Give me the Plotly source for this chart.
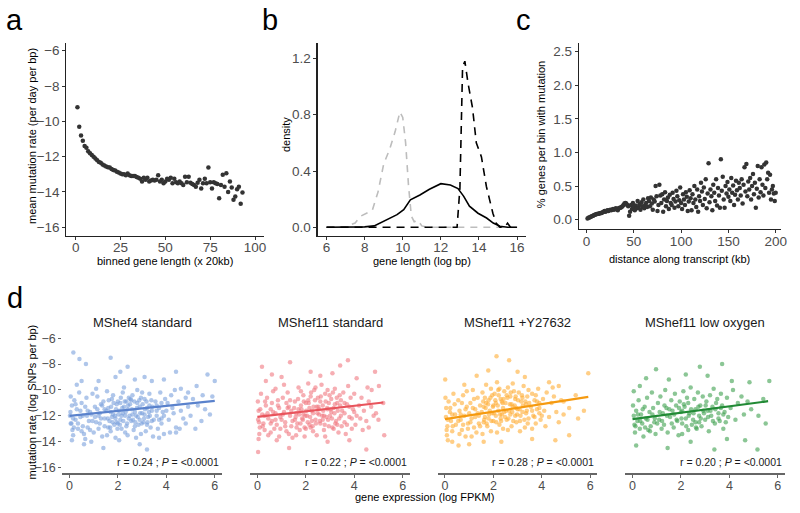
import plotly.graph_objects as go

# ---------------- data ----------------
# panel a: mean mutation rate per binned gene length
a_x = list(range(1, 94))
a_y = [-9.2, -10.3, -10.8, -11.1, -11.4, -11.5, -11.7, -11.8, -11.9, -12.0,
       -12.1, -12.2, -12.3, -12.35, -12.45, -12.5, -12.55, -12.6, -12.62, -12.7,
       -12.75, -12.78, -12.85, -12.9, -12.95, -13.0, -13.0, -13.05, -12.95, -13.05,
       -13.1, -13.1, -13.1, -13.15, -13.2, -13.25, -13.4, -13.2, -13.3, -13.2,
       -13.4, -13.35, -13.3, -13.35, -13.3, -13.05, -13.4, -13.3, -13.5, -13.4,
       -13.25, -13.3, -13.2, -13.5, -13.25, -13.45, -13.5, -13.4, -13.5, -13.6,
       -13.13, -13.45, -13.13, -13.47, -13.55, -13.6, -13.7, -13.47, -13.3, -13.8,
       -13.5, -13.25, -13.5, -12.62, -13.45, -13.8, -13.45, -13.5, -13.55, -14.35,
       -13.6, -13.03, -13.7, -12.94, -14.0, -13.4, -13.75, -14.44, -14.25, -13.84,
       -13.7, -14.67, -14.03]

# panel b: density curves of gene length (log bp)
b_grey_x = [6, 7.0, 7.3, 7.5, 7.8, 8.1, 8.4, 8.7, 9.0, 9.3, 9.6, 9.85, 10.0, 10.15, 10.3, 10.45, 10.6, 10.8, 11.0, 11.3, 16]
b_grey_y = [0, 0.0, 0.02, 0.03, 0.08, 0.10, 0.12, 0.25, 0.45, 0.55, 0.68, 0.82, 0.78, 0.60, 0.30, 0.08, 0.04, 0.05, 0.01, 0, 0]
b_solid_x = [6, 7.5, 8.0, 8.5, 9.2, 9.7, 10.05, 10.4, 10.9, 11.4, 12.0, 12.5, 12.9, 13.2, 13.5, 13.95, 14.4, 14.75, 15.1, 15.5, 16]
b_solid_y = [0, 0.0, 0.003, 0.01, 0.055, 0.09, 0.125, 0.195, 0.23, 0.27, 0.31, 0.30, 0.275, 0.22, 0.15, 0.10, 0.066, 0.03, 0.007, 0, 0]
b_dash_x = [6, 12.85, 13.0, 13.14, 13.26, 13.43, 13.66, 13.86, 14.13, 14.39, 14.56, 14.73, 14.9, 15.1, 15.35, 15.5, 15.65, 16]
b_dash_y = [0, 0, 0.28, 1.14, 1.18, 1.02, 0.85, 0.60, 0.50, 0.29, 0.195, 0.10, 0.03, 0.0, 0.0, 0.03, 0.0, 0]

# panel c: % genes per bin with mutation vs distance along transcript
c_x = list(range(1, 201))
c_y = [0.02, 0.03, 0.035, 0.04, 0.05, 0.055, 0.06, 0.07, 0.075, 0.08,
       0.085, 0.09, 0.09, 0.095, 0.10, 0.10, 0.11, 0.12, 0.13, 0.12,
       0.13, 0.14, 0.13, 0.14, 0.15, 0.14, 0.15, 0.16, 0.15, 0.16,
       0.17, 0.16, 0.14, 0.17, 0.18, 0.18, 0.19, 0.20, 0.22, 0.24,
       0.25, 0.24, 0.22, 0.20, 0.06, 0.12, 0.22, 0.16, 0.25, 0.19,
       0.14, 0.21, 0.17, 0.28, 0.18, 0.23, 0.15, 0.26, 0.20, 0.30,
       0.17, 0.22, 0.25, 0.19, 0.32, 0.28, 0.20, 0.33, 0.24, 0.15,
       0.30, 0.27, 0.50, 0.35, 0.13, 0.22, 0.52, 0.36, 0.25, 0.38,
       0.12, 0.30, 0.41, 0.20, 0.28, 0.33, 0.16, 0.37, 0.25, 0.22,
       0.40, 0.31, 0.18, 0.27, 0.43, 0.35, 0.20, 0.29, 0.48, 0.25,
       0.16, 0.38, 0.30, 0.22, 0.41, 0.34, 0.13, 0.27, 0.44, 0.32,
       0.14, 0.38, 0.25, 0.50, 0.30, 0.19, 0.45, 0.12, 0.35, 0.28,
       0.55, 0.42, 0.22, 0.48, 0.31, 0.60, 0.17, 0.39, 0.84, 0.26,
       0.45, 0.35, 0.14, 0.52, 0.40, 0.28, 0.60, 0.21, 0.47, 0.36,
       0.18, 0.90, 0.43, 0.64, 0.30, 0.18, 0.50, 0.39, 0.56, 0.34,
       0.45, 0.28, 0.62, 0.40, 0.51, 0.22, 0.37, 0.58, 0.44, 0.30,
       0.55, 0.47, 0.36, 0.60, 0.24, 0.52, 0.78, 0.42, 0.83, 0.35,
       0.57, 0.45, 0.62, 0.30, 0.50, 0.68, 0.38, 0.55, 0.18, 0.46,
       0.80, 0.33, 0.60, 0.41, 0.78, 0.52, 0.36, 0.82, 0.47, 0.85,
       0.60, 0.70, 0.40, 0.67, 0.30, 0.45, 0.50, 0.39, 0.28, 0.40]

# panel d: mutation rate vs gene expression, four conditions
d_titles = ["MShef4 standard", "MShef11 standard", "MShef11 +Y27632", "MShef11 low oxygen"]
d_r = ["0.24", "0.22", "0.28", "0.20"]
d_p = ["<0.0001", "<0.0001", "<0.0001", "<0.0001"]

d1_pts = [(0.16,-7.1),(0.41,-7.6),(0.68,-8.0),(1.7,-7.5),(2.4,-8.2),(2.1,-8.6),(4.4,-8.6),(5.7,-8.8),(6.0,-9.3),(5.25,-9.7),
          (5.6,-11.5),(5.8,-11.9),(5.2,-13.0),(4.4,-13.3),(3.2,-14.6),(1.4,-14.5),(0.6,-14.2),(0.9,-14.0),(2.9,-14.2),(4.8,-12.6),
          (4.9,-10.2),(4.6,-9.9),(3.9,-9.2),(3.1,-9.0),(1.2,-9.3),(0.3,-9.6),(0.5,-9.3),(2.7,-9.2),(1.9,-9.0),(3.4,-9.3),
          (0.05,-10.5),(0.1,-11.2),(0.02,-12.0),(0.08,-12.6),(0.12,-13.1),(0.04,-11.7),(0.15,-13.5),(0.2,-10.8),(0.25,-12.3),(0.1,-13.9),
          (0.3,-11.5),(0.18,-12.9),(0.4,-10.2),(0.5,-11.0),(0.45,-12.1),(0.55,-12.8),(0.6,-13.4),(0.7,-10.6),(0.75,-11.6),(0.8,-12.4),
          (0.85,-13.1),(0.9,-11.9),(0.95,-10.3),(0.65,-13.8),(0.35,-12.6),(0.5,-13.2),(0.72,-12.0),(1.05,-11.3),(1.1,-12.5),(1.15,-10.5),
          (1.2,-13.0),(1.25,-11.8),(1.3,-12.2),(1.35,-13.6),(1.4,-10.9),(1.45,-12.8),(1.0,-13.3),(1.1,-9.9),(1.3,-11.1),(1.45,-11.5),
          (1.2,-12.0),(1.55,-10.1),(1.6,-11.4),(1.65,-12.4),(1.7,-13.2),(1.75,-10.7),(1.8,-11.9),(1.85,-12.7),(1.9,-13.7),(1.95,-11.1),
          (1.6,-12.9),(1.7,-11.7),(1.8,-10.4),(1.9,-12.2),(1.55,-13.5),(1.75,-12.1),(1.95,-12.5),(2.0,-10.9),(2.05,-11.6),(2.1,-12.3),
          (2.15,-13.0),(2.2,-10.2),(2.25,-11.3),(2.3,-12.0),(2.35,-12.8),(2.4,-13.5),(2.45,-10.6),(2.0,-12.6),(2.1,-11.0),(2.2,-11.8),
          (2.3,-13.3),(2.4,-11.5),(2.45,-12.2),(2.05,-13.9),(2.25,-9.8),(2.35,-10.9),(2.15,-12.0),(2.5,-11.1),(2.55,-12.4),(2.6,-10.4),
          (2.65,-13.1),(2.7,-11.7),(2.75,-12.0),(2.8,-10.0),(2.85,-12.7),(2.9,-11.3),(2.95,-13.4),(2.6,-11.9),(2.7,-12.8),(2.8,-11.0),
          (2.9,-12.3),(2.55,-10.8),(2.75,-13.7),(2.95,-10.6),(3.0,-11.8),(3.05,-12.5),(3.1,-10.7),(3.15,-13.2),(3.2,-11.4),(3.25,-12.1),
          (3.3,-10.3),(3.35,-12.9),(3.4,-11.6),(3.45,-13.6),(3.1,-11.9),(3.3,-11.2),(3.2,-12.7),(3.0,-10.2),(3.4,-12.4),(3.55,-10.9),
          (3.6,-12.0),(3.65,-13.0),(3.7,-11.4),(3.75,-10.2),(3.8,-12.6),(3.85,-11.7),(3.9,-13.4),(3.95,-10.7),(3.6,-11.2),(3.8,-12.2),
          (3.7,-13.7),(4.05,-11.0),(4.1,-12.3),(4.2,-10.4),(4.3,-11.8),(4.4,-12.9),(4.5,-10.9),(4.6,-11.6),(4.7,-12.2),(4.8,-10.6),
          (4.9,-11.3),(4.15,-13.3),(4.35,-10.0),(4.55,-13.0),(4.25,-11.4),(5.1,-10.7),(5.3,-11.2),(5.5,-10.4),(5.0,-12.0),(5.45,-12.4),
          (5.9,-10.5),
          (1.52,-11.6),(1.58,-12.2),(1.62,-10.8),(1.68,-12.9),(1.72,-11.3),(1.78,-12.5),(1.82,-11.0),(1.88,-12.0),(1.92,-11.5),(1.98,-13.0),
          (2.02,-11.9),(2.08,-12.7),(2.12,-10.6),(2.18,-11.4),(2.22,-12.4),(2.28,-10.9),(2.32,-11.7),(2.38,-12.6),(2.42,-11.2),(2.48,-12.0),
          (2.52,-10.7),(2.58,-11.5),(2.62,-12.3),(2.68,-10.9),(2.72,-12.5),(2.78,-11.4),(2.82,-12.1),(2.88,-10.8),(2.92,-11.8),(2.98,-12.6),
          (3.02,-11.1),(3.08,-12.2),(3.12,-11.5),(3.18,-10.9),(3.22,-12.5),(3.28,-11.7),(3.32,-12.0),(3.38,-10.8),(3.42,-11.3),(3.48,-12.3),
          (1.05,-12.1),(1.15,-11.5),(1.25,-12.6),(1.35,-11.2),(1.45,-12.2),(0.55,-12.0),(0.65,-11.3),(0.75,-12.9),(0.85,-11.7),(0.95,-12.4),
          (0.15,-12.2),(0.25,-11.1),(0.35,-13.0),(0.05,-12.6),(0.45,-11.6),(3.6,-11.6),(3.7,-12.3),(3.8,-11.0),(3.9,-12.0),(4.0,-11.6)]

d2_pts = [(0.19,-8.2),(1.35,-7.85),(3.74,-7.7),(3.42,-8.1),(4.86,-8.6),(5.02,-9.7),(5.24,-13.5),(4.5,-14.6),(0.03,-14.8),(1.31,-14.5),
          (0.35,-9.3),(4.72,-10.0),(0.6,-8.8),(1.0,-9.0),(2.2,-8.6),(2.6,-8.9),(3.1,-8.7),(4.1,-9.1),(2.9,-14.0),(3.8,-13.9),
          (0.8,-13.9),(4.9,-11.8),(5.0,-12.3),(4.6,-12.9),(0.02,-10.9),(0.05,-11.6),(0.03,-12.3),(0.1,-12.9),(0.08,-13.4),(0.15,-10.3),
          (0.2,-11.9),(0.25,-12.6),(0.3,-13.1),(0.35,-11.2),(0.4,-10.6),(0.45,-12.2),(0.05,-13.8),(0.3,-12.0),(0.45,-13.5),(0.55,-11.5),
          (0.6,-12.4),(0.65,-10.1),(0.7,-13.0),(0.75,-11.8),(0.8,-12.7),(0.85,-10.8),(0.9,-13.6),(0.95,-12.1),(0.6,-11.0),(0.75,-9.9),
          (0.9,-11.4),(0.55,-13.3),(1.05,-10.6),(1.1,-11.7),(1.15,-12.5),(1.2,-13.2),(1.25,-10.2),(1.3,-11.3),(1.35,-12.0),(1.4,-12.8),
          (1.45,-13.7),(1.1,-9.6),(1.2,-11.0),(1.4,-11.6),(1.3,-13.4),(1.0,-12.3),(1.55,-10.9),(1.6,-11.8),(1.65,-12.6),(1.7,-9.8),
          (1.75,-13.1),(1.8,-11.2),(1.85,-12.2),(1.9,-10.4),(1.95,-12.9),(1.6,-13.5),(1.7,-11.5),(1.8,-10.1),(1.9,-11.9),(1.55,-12.3),
          (1.95,-13.6),(2.0,-11.0),(2.05,-12.0),(2.1,-9.5),(2.15,-12.7),(2.2,-10.5),(2.25,-11.6),(2.3,-13.2),(2.35,-10.0),(2.4,-12.3),
          (2.45,-11.3),(2.0,-13.0),(2.1,-10.8),(2.2,-12.9),(2.3,-11.8),(2.4,-9.8),(2.15,-11.4),(2.45,-13.5),(2.25,-12.4),(2.5,-10.6),
          (2.55,-11.9),(2.6,-12.6),(2.65,-9.6),(2.7,-11.2),(2.75,-13.1),(2.8,-10.3),(2.85,-12.1),(2.9,-11.5),(2.95,-12.8),(2.6,-10.9),
          (2.7,-12.3),(2.8,-13.6),(2.9,-10.0),(2.55,-11.5),(2.95,-11.0),(2.75,-12.0),(3.0,-12.0),(3.05,-10.7),(3.1,-12.9),(3.15,-11.4),
          (3.2,-9.9),(3.25,-12.4),(3.3,-11.0),(3.35,-13.3),(3.4,-10.4),(3.45,-12.0),(3.05,-11.7),(3.2,-11.1),(3.3,-12.7),(3.45,-10.8),
          (3.15,-13.0),(3.5,-11.6),(3.55,-10.2),(3.6,-12.5),(3.7,-11.1),(3.75,-9.7),(3.8,-12.1),(3.85,-10.6),(3.9,-13.0),(3.95,-11.5),
          (4.0,-10.3),(4.1,-12.0),(4.2,-11.2),(3.65,-13.4),(4.05,-12.7),(3.6,-11.0),(4.3,-10.6),(4.4,-11.6),(4.5,-12.4),(4.6,-10.9),
          (4.7,-11.3),(4.8,-12.0),(4.35,-13.1),(4.55,-9.8),(4.25,-12.2),(5.2,-11.0),
          (1.52,-11.4),(1.58,-12.1),(1.62,-12.9),(1.68,-10.7),(1.72,-11.9),(1.78,-12.6),(1.82,-11.5),(1.88,-12.3),(1.92,-10.9),(1.98,-12.0),
          (2.02,-11.6),(2.08,-12.5),(2.12,-11.0),(2.18,-12.1),(2.22,-10.2),(2.28,-12.8),(2.32,-11.3),(2.38,-10.8),(2.42,-12.6),(2.48,-11.8),
          (2.52,-11.3),(2.58,-12.4),(2.62,-10.5),(2.68,-12.0),(2.72,-11.6),(2.78,-12.7),(2.82,-10.9),(2.88,-11.4),(2.92,-12.3),(2.98,-10.4),
          (3.02,-11.5),(3.08,-12.2),(3.12,-10.2),(3.18,-11.8),(3.22,-12.6),(3.28,-10.6),(3.32,-11.6),(3.38,-12.2),(3.42,-11.2),(3.48,-12.8),
          (1.05,-11.9),(1.15,-12.8),(1.25,-11.4),(1.35,-10.8),(1.45,-12.4),(0.55,-12.6),(0.65,-11.7),(0.75,-12.3),(0.85,-11.2),(0.95,-13.0),
          (0.12,-11.5),(0.22,-12.8),(0.32,-10.9),(0.42,-11.8),(0.07,-12.5),(3.6,-11.8),(3.7,-12.7),(3.8,-11.3),(3.9,-12.2),(4.0,-11.7)]

d3_pts = [(0.01,-9.2),(2.13,-7.4),(2.65,-7.7),(1.79,-8.5),(5.92,-8.7),(1.31,-8.9),(5.13,-11.4),(5.74,-11.6),(5.13,-13.5),(4.56,-13.9),
          (0.56,-14.3),(2.33,-14.0),(3.0,-8.6),(3.3,-9.0),(4.3,-9.4),(4.7,-9.7),(5.4,-10.4),(0.8,-9.6),(0.3,-14.0),(1.0,-14.2),
          (1.6,-14.0),(3.6,-13.8),(4.9,-10.9),(5.5,-12.2),(0.02,-10.6),(0.05,-11.4),(0.04,-12.1),(0.1,-12.8),(0.08,-13.5),(0.15,-10.9),
          (0.2,-11.7),(0.25,-12.4),(0.3,-13.2),(0.35,-10.3),(0.4,-11.1),(0.45,-12.7),(0.12,-13.9),(0.3,-11.9),(0.55,-10.8),(0.6,-11.6),
          (0.65,-12.3),(0.7,-13.1),(0.75,-10.4),(0.8,-12.0),(0.85,-13.6),(0.9,-11.3),(0.95,-12.6),(0.6,-13.4),(0.7,-11.0),(0.9,-10.1),
          (1.05,-11.0),(1.1,-12.2),(1.15,-10.0),(1.2,-12.9),(1.25,-11.5),(1.3,-13.3),(1.35,-10.6),(1.4,-12.0),(1.45,-11.2),(1.1,-13.6),
          (1.2,-10.7),(1.4,-12.6),(1.0,-11.8),(1.55,-10.2),(1.6,-11.3),(1.65,-12.1),(1.7,-9.6),(1.75,-12.8),(1.8,-10.8),(1.85,-11.6),
          (1.9,-13.2),(1.95,-10.4),(1.6,-12.5),(1.7,-11.0),(1.8,-12.2),(1.9,-9.9),(1.55,-13.4),(1.95,-11.8),(1.65,-10.6),(2.0,-11.2),
          (2.05,-10.3),(2.1,-12.0),(2.15,-9.4),(2.2,-11.6),(2.25,-12.7),(2.3,-10.7),(2.35,-11.9),(2.4,-13.0),(2.45,-10.1),(2.0,-12.4),
          (2.1,-11.0),(2.2,-10.0),(2.3,-12.2),(2.4,-11.4),(2.15,-13.3),(2.45,-11.7),(2.25,-9.9),(2.35,-10.9),(2.5,-11.0),(2.55,-12.3),
          (2.6,-9.8),(2.65,-11.6),(2.7,-10.5),(2.75,-12.8),(2.8,-11.3),(2.85,-10.1),(2.9,-12.0),(2.95,-11.4),(2.6,-13.1),(2.7,-11.9),
          (2.8,-9.5),(2.9,-10.7),(2.55,-10.4),(2.95,-12.5),(2.75,-11.1),(3.0,-11.5),(3.05,-10.2),(3.1,-12.4),(3.15,-10.9),(3.2,-11.7),
          (3.25,-9.7),(3.3,-12.9),(3.35,-11.1),(3.4,-10.5),(3.45,-12.2),(3.1,-13.2),(3.2,-10.6),(3.35,-11.8),(3.45,-10.0),(3.55,-11.3),
          (3.6,-10.3),(3.65,-12.0),(3.7,-10.8),(3.75,-12.6),(3.8,-11.5),(3.85,-9.9),(3.9,-11.0),(3.95,-12.3),(3.6,-13.0),(3.75,-10.4),
          (3.9,-11.8),(4.05,-10.7),(4.1,-11.6),(4.2,-10.2),(4.3,-12.1),(4.4,-11.0),(4.5,-10.5),(4.6,-11.7),(4.7,-12.5),(4.8,-10.8),
          (4.15,-12.8),(4.45,-9.8),(4.9,-11.9),
          (1.52,-11.7),(1.58,-10.9),(1.62,-12.3),(1.68,-11.4),(1.72,-12.6),(1.78,-11.1),(1.82,-11.9),(1.88,-10.6),(1.92,-12.4),(1.98,-11.3),
          (2.02,-11.8),(2.08,-10.8),(2.12,-12.5),(2.18,-11.2),(2.22,-10.4),(2.28,-11.9),(2.32,-12.4),(2.38,-11.0),(2.42,-10.7),(2.48,-12.1),
          (2.52,-11.6),(2.58,-10.6),(2.62,-12.2),(2.68,-11.1),(2.72,-10.2),(2.78,-11.7),(2.82,-12.4),(2.88,-11.2),(2.92,-10.5),(2.98,-11.9),
          (3.02,-10.8),(3.08,-11.5),(3.12,-12.0),(3.18,-10.4),(3.22,-11.2),(3.28,-12.3),(3.32,-10.9),(3.38,-11.6),(3.42,-12.6),(3.48,-11.0),
          (1.05,-12.5),(1.15,-11.4),(1.25,-12.1),(1.35,-11.8),(1.45,-12.8),(0.55,-12.4),(0.65,-11.9),(0.75,-12.7),(0.85,-11.5),(0.95,-13.0),
          (0.12,-12.3),(0.22,-11.4),(0.32,-12.8),(0.42,-11.9),(0.07,-13.1),(3.6,-11.6),(3.7,-12.1),(3.8,-10.9),(3.9,-11.4),(4.0,-12.0)]

d4_pts = [(2.78,-8.2),(3.7,-8.0),(0.97,-8.4),(5.65,-9.3),(4.83,-9.4),(0.05,-10.1),(0.56,-9.1),(5.5,-12.6),(4.65,-13.9),(5.16,-14.6),
          (3.38,-14.6),(1.45,-14.5),(0.15,-14.3),(2.2,-8.8),(3.1,-8.9),(1.5,-9.2),(4.1,-9.3),(0.3,-9.7),(2.4,-14.0),(3.9,-13.8),
          (0.02,-11.2),(0.05,-12.0),(0.08,-12.7),(0.1,-13.3),(0.15,-11.6),(0.2,-12.4),(0.25,-10.8),(0.3,-13.0),(0.35,-11.9),(0.4,-12.6),
          (0.45,-13.6),(0.5,-11.3),(0.55,-12.2),(0.6,-10.6),(0.65,-13.1),(0.7,-11.7),(0.75,-12.8),(0.8,-10.2),(0.85,-11.4),(0.9,-12.5),
          (0.95,-13.4),(1.05,-11.0),(1.1,-12.3),(1.15,-10.5),(1.2,-13.0),(1.25,-11.8),(1.3,-12.7),(1.35,-10.0),(1.4,-11.4),(1.45,-13.3),
          (1.55,-12.1),(1.6,-10.8),(1.65,-11.6),(1.7,-12.9),(1.75,-10.3),(1.8,-11.2),(1.85,-12.4),(1.9,-13.5),(1.95,-10.9),(2.0,-11.7),
          (2.05,-12.6),(2.1,-10.1),(2.15,-11.3),(2.2,-12.2),(2.25,-10.6),(2.3,-13.1),(2.35,-11.8),(2.4,-9.8),(2.45,-12.7),(2.05,-13.4),
          (2.3,-11.0),(2.5,-12.3),(2.55,-10.7),(2.6,-11.5),(2.65,-13.0),(2.7,-10.2),(2.75,-12.0),(2.8,-11.2),(2.85,-12.8),(2.9,-10.5),
          (2.95,-11.8),(2.6,-12.5),(3.0,-12.3),(3.05,-10.9),(3.1,-11.6),(3.15,-13.2),(3.2,-10.4),(3.25,-12.0),(3.3,-11.3),(3.35,-9.9),
          (3.4,-12.6),(3.45,-11.0),(3.5,-10.7),(3.55,-11.8),(3.6,-12.4),(3.65,-10.3),(3.7,-11.2),(3.75,-13.0),(3.8,-11.7),(3.9,-10.6),
          (3.95,-12.1),(4.05,-11.4),(4.15,-10.0),(4.25,-12.3),(4.35,-11.0),(4.5,-10.5),(4.6,-11.9),(4.75,-10.9),(4.9,-11.5),(5.2,-12.0),
          (5.4,-10.7),
          (1.52,-11.5),(1.62,-12.6),(1.72,-11.9),(1.82,-12.3),(1.92,-11.4),(2.02,-12.2),(2.12,-11.1),(2.22,-12.8),(2.32,-12.0),(2.42,-11.5),
          (2.52,-11.8),(2.62,-12.9),(2.72,-11.3),(2.82,-12.2),(2.92,-11.6),(3.02,-11.2),(3.12,-12.1),(3.22,-11.6),(3.32,-12.4),(3.42,-11.5),
          (0.12,-12.8),(0.22,-11.9),(0.32,-12.4),(0.42,-11.5),(0.52,-12.9),(0.62,-12.3),(0.72,-13.2),(0.82,-11.9),(0.92,-12.2),(1.02,-12.6),
          (1.12,-11.7),(1.22,-12.4),(1.32,-11.2),(1.42,-12.0),(3.55,-12.2),(3.65,-11.4),(3.75,-11.9),(3.85,-12.5),(2.05,-11.6),(2.75,-12.5)]

# fitted regression lines: x endpoints and y endpoints
d_fit_x = [[0, 6.0], [0, 5.2], [0, 5.92], [0, 5.6]]
d_fit_y = [[-12.0, -10.85], [-12.08, -10.97], [-12.26, -10.54], [-12.26, -10.87]]

d_point_colors = ["#7AA0DC", "#F07880", "#FFAE35", "#3EA04E"]
d_line_colors = ["#5A82CC", "#E8545C", "#F59A10", "#218A35"]

# ---------------- figure ----------------
W, H = 800, 513
def px(x):
    return x / W
def py(y):
    return 1 - y / H

FONT = "Liberation Sans, Arial, sans-serif"
TICKC = "#4D4D4D"

fig = go.Figure()

fig.add_trace(go.Scatter(x=a_x, y=a_y, mode="markers",
                         marker=dict(size=4.5, color="#333333"), xaxis="x", yaxis="y"))

fig.add_trace(go.Scatter(x=b_grey_x, y=b_grey_y, mode="lines",
                         line=dict(color="#BDBDBD", width=1.6, dash="7px,6px"), xaxis="x2", yaxis="y2"))
fig.add_trace(go.Scatter(x=b_solid_x, y=b_solid_y, mode="lines",
                         line=dict(color="#000000", width=1.6), xaxis="x2", yaxis="y2"))
fig.add_trace(go.Scatter(x=b_dash_x, y=b_dash_y, mode="lines",
                         line=dict(color="#000000", width=1.6, dash="8px,6px"), xaxis="x2", yaxis="y2"))

fig.add_trace(go.Scatter(x=c_x, y=c_y, mode="markers",
                         marker=dict(size=4.5, color="#333333"), xaxis="x3", yaxis="y3"))

d_sets = [d1_pts, d2_pts, d3_pts, d4_pts]
for i, pts in enumerate(d_sets):
    ax = str(4 + i)
    fig.add_trace(go.Scatter(x=[p[0] for p in pts], y=[p[1] for p in pts], mode="markers",
                             marker=dict(size=4.5, color=d_point_colors[i], opacity=0.6),
                             xaxis="x" + ax, yaxis="y" + ax))
    fig.add_trace(go.Scatter(x=d_fit_x[i], y=d_fit_y[i], mode="lines",
                             line=dict(color=d_line_colors[i], width=2.2),
                             xaxis="x" + ax, yaxis="y" + ax))

common = dict(showgrid=False, zeroline=False, ticks="outside", ticklen=3,
              tickfont=dict(family=FONT, size=13.5, color=TICKC))
line_ax = dict(showline=True, linecolor="#222222", linewidth=1.2, tickcolor="#333333", **common)

top_y = [py(236), py(42.7)]

layout = dict(
    width=W, height=H, autosize=False,
    margin=dict(l=0, r=0, t=0, b=0),
    paper_bgcolor="white", plot_bgcolor="white",
    showlegend=False,
    font=dict(family=FONT, color="#000000"),
    xaxis=dict(domain=[px(67), px(266)], range=[-5.1, 105], anchor="y",
               tickvals=[0, 25, 50, 75, 100], ticklabelstandoff=-4, **line_ax),
    yaxis=dict(domain=top_y, range=[-16.47, -5.59], anchor="x",
               tickvals=[-6, -8, -10, -12, -14, -16], **line_ax),
    xaxis2=dict(domain=[px(320), px(530)], range=[5.53, 16.47], anchor="y2",
                tickvals=[6, 8, 10, 12, 14, 16], ticklabelstandoff=-4, **line_ax),
    yaxis2=dict(domain=top_y, range=[-0.059, 1.306], anchor="x2",
                tickvals=[0, 0.4, 0.8, 1.2], ticktext=["0.0", "0.4", "0.8", "1.2"], **line_ax),
    xaxis3=dict(domain=[px(583.3), px(786.7)], range=[-8.1, 205.4], anchor="y3",
                tickvals=[0, 50, 100, 150, 200], ticklabelstandoff=-3, **line_ax),
    yaxis3=dict(domain=[py(229.3), py(42.7)], range=[-0.137, 2.62], anchor="x3",
                tickvals=[0, 0.5, 1.0, 1.5, 2.0, 2.5],
                ticktext=["0.0", "0.5", "1.0", "1.5", "2.0", "2.5"], **line_ax),
)

d_left = [62.7, 252.0, 441.0, 630.0]
d_w = 161.0
d_ydom = [py(475.1), py(333.4)]
d_common = dict(showgrid=False, zeroline=False, ticks="outside", ticklen=3,
                tickfont=dict(family=FONT, size=12.5, color=TICKC))
annotations = []
for i in range(4):
    n = str(4 + i)
    layout["xaxis" + n] = dict(domain=[px(d_left[i]), px(d_left[i] + d_w)], range=[-0.3, 6.3],
                               anchor="y" + n, tickvals=[0, 2, 4, 6], showline=True,
                               ticklabelstandoff=-3,
                               linecolor="#666666", linewidth=1.2, tickcolor="#666666", **d_common)
    yd = dict(domain=d_ydom, range=[-16.45, -5.55], anchor="x" + n, showline=False,
              tickvals=[-6, -8, -10, -12, -14, -16], tickcolor="#666666", **d_common)
    if i > 0:
        yd["showticklabels"] = False
        yd["ticks"] = ""
    layout["yaxis" + n] = yd
    # panel title
    annotations.append(dict(text=d_titles[i], x=px(d_left[i] + d_w / 2), y=py(323),
                            xref="paper", yref="paper", showarrow=False,
                            xanchor="center", yanchor="middle",
                            font=dict(family=FONT, size=13, color="#1a1a1a")))
    annotations.append(dict(text="r = " + d_r[i] + " ; <i>P</i> = " + d_p[i].replace("<", "&lt;"),
                            x=px(d_left[i] + d_w - 1), y=py(464),
                            xref="paper", yref="paper", showarrow=False,
                            xanchor="right", yanchor="middle",
                            font=dict(family=FONT, size=10.5, color="#1a1a1a")))

def label(text, x, y, size=11, angle=0):
    annotations.append(dict(text=text, x=px(x), y=py(y), xref="paper", yref="paper",
                            showarrow=False, xanchor="center", yanchor="middle", textangle=angle,
                            font=dict(family=FONT, size=size, color="#000000")))

label("mean mutation rate (per day per bp)", 32, 136, angle=-90)
label("binned gene length (x 20kb)", 166, 262)
label("density", 288, 134, angle=-90)
label("gene length (log bp)", 425, 262)
label("% genes per bin with mutation", 545, 134, angle=-90)
label("distance along transcript (kb)", 685, 260)
label("mutation rate (log SNPs per bp)", 32, 403, angle=-90)
label("gene expression (log FPKM)", 428, 499)

for t, x, y in [("a", 15, 19.6), ("b", 272, 19.6), ("c", 527, 19.6), ("d", 15, 298.6)]:
    label(t, x, y, size=29)

layout["annotations"] = annotations
fig.update_layout(**layout)

fig.write_html("out.html", config={"displayModeBar": False, "staticPlot": True},
               post_script="document.body.style.margin='0';document.body.style.overflow='hidden';")
